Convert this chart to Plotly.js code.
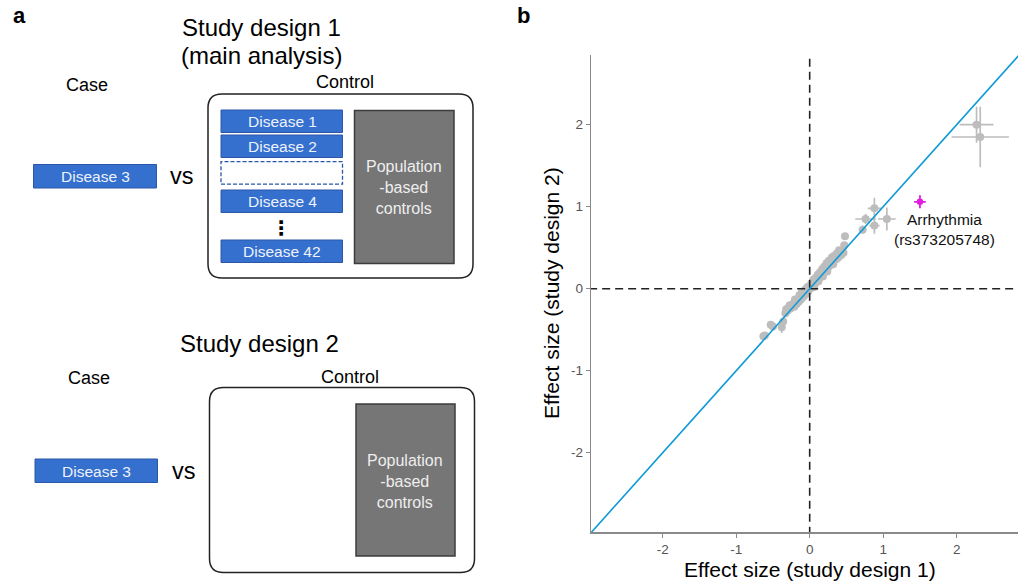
<!DOCTYPE html>
<html>
<head>
<meta charset="utf-8">
<script src="https://cdn.plot.ly/plotly-3.0.1.min.js"></script>
<style>html,body{margin:0;padding:0;background:#fff;}#chart{width:1018px;height:586px;}</style>
</head>
<body>
<div id="chart"></div>
<script>
// ---------- data (panel b) ----------
const effectDesign1 = [-0.63,-0.61,-0.53,-0.50,-0.38,-0.36,-0.33,-0.30,-0.27,-0.26,-0.24,-0.22,-0.21,-0.19,-0.18,-0.16,-0.15,-0.13,-0.12,-0.10,-0.09,-0.08,-0.07,-0.06,-0.05,-0.04,-0.03,-0.02,-0.01,
  0.01,0.02,0.03,0.04,0.05,0.06,0.07,0.08,0.09,0.10,0.11,0.12,0.13,0.14,0.15,0.16,0.17,0.18,0.19,0.20,0.21,0.22,0.23,0.24,0.25,0.26,0.27,0.28,0.29,0.30,0.31,0.33,0.34,0.36,0.37,0.39,0.41,0.43,0.44,0.46,0.47,0.48,
  -0.32,-0.28,-0.20,-0.14,-0.11,-0.06,-0.03,0.02,0.05,0.08,0.11,0.14,0.17,0.20,0.23,0.26,0.30,0.33,0.37,0.40,0.06,0.12,0.18,0.24,0.32,
  0.72,0.76,0.88,0.88,1.05,2.27,2.32];
const effectDesign2 = [-0.58,-0.57,-0.44,-0.46,-0.47,-0.40,-0.30,-0.27,-0.20,-0.24,-0.21,-0.18,-0.22,-0.16,-0.19,-0.13,-0.16,-0.11,-0.13,-0.08,-0.10,-0.06,-0.08,-0.04,-0.06,-0.03,-0.01,-0.03,0.00,
  0.02,0.01,0.05,0.03,0.07,0.05,0.09,0.07,0.11,0.10,0.14,0.12,0.16,0.14,0.18,0.16,0.20,0.19,0.22,0.21,0.25,0.23,0.27,0.25,0.29,0.27,0.31,0.29,0.33,0.31,0.35,0.34,0.37,0.36,0.39,0.38,0.42,0.41,0.45,0.44,0.53,0.64,
  -0.25,-0.22,-0.13,-0.08,-0.05,-0.01,0.02,0.06,0.11,0.13,0.17,0.20,0.24,0.27,0.31,0.34,0.38,0.40,0.43,0.47,0.02,0.09,0.15,0.21,0.30,
  0.72,0.85,0.98,0.77,0.85,2.00,1.85];
const errDesign1 = [0.03,0.03,0.03,0.03,0.03,0.03,0.02,0.02,0.02,0.02,0.02,0.02,0.02,0.02,0.02,0.02,0.02,0.02,0.02,0.02,0.02,0.02,0.02,0.02,0.02,0.02,0.02,0.02,0.02,
  0.02,0.02,0.02,0.02,0.02,0.02,0.02,0.02,0.02,0.02,0.02,0.02,0.02,0.02,0.02,0.02,0.02,0.02,0.02,0.02,0.02,0.02,0.02,0.02,0.02,0.02,0.02,0.02,0.02,0.02,0.02,0.02,0.02,0.02,0.02,0.02,0.02,0.02,0.02,0.03,0.03,0.03,
  0.02,0.02,0.02,0.02,0.02,0.02,0.02,0.02,0.02,0.02,0.02,0.02,0.02,0.02,0.02,0.02,0.02,0.02,0.02,0.02,0.02,0.02,0.02,0.02,0.02,
  0.05,0.14,0.09,0.07,0.12,0.23,0.39];
const errDesign2 = [0.03,0.03,0.03,0.03,0.07,0.03,0.02,0.02,0.02,0.02,0.02,0.02,0.02,0.02,0.02,0.02,0.02,0.02,0.02,0.02,0.02,0.02,0.02,0.02,0.02,0.02,0.02,0.02,0.02,
  0.02,0.02,0.02,0.02,0.02,0.02,0.02,0.02,0.02,0.02,0.02,0.02,0.02,0.02,0.02,0.02,0.02,0.02,0.02,0.02,0.02,0.02,0.02,0.02,0.02,0.02,0.02,0.02,0.02,0.02,0.02,0.02,0.02,0.02,0.02,0.02,0.02,0.02,0.02,0.04,0.04,0.03,
  0.02,0.02,0.02,0.02,0.02,0.02,0.02,0.02,0.02,0.02,0.02,0.02,0.02,0.02,0.02,0.02,0.02,0.02,0.02,0.02,0.02,0.02,0.02,0.02,0.02,
  0.05,0.06,0.13,0.10,0.14,0.22,0.37];
const highlightX = [1.50];
const highlightY = [1.06];
const highlightErrX = [0.08];
const highlightErrY = [0.08];
const highlightLabel = "Arrhythmia<br>(rs373205748)";
const refLine = [-3, 3];
const tickValues = [-2, -1, 0, 1, 2];
const tickLabels = ["-2", "-1", "0", "1", "2"];

// ---------- panel a labels ----------
const design1Controls = ["Disease 1", "Disease 2", "", "Disease 4", "Disease 42"];
const caseLabel = "Disease 3";
const popLabel = "Population<br>-based<br>controls";

// ---------- helpers (pixel -> paper) ----------
const W = 1018, H = 586;
const px = x => x / W;
const py = y => 1 - y / H;
const FONT = "Liberation Sans, Arial, sans-serif";

function rect(x0, y0, x1, y1, fill, lc, lw, dash) {
  return {type: 'rect', xref: 'paper', yref: 'paper', x0: px(x0), x1: px(x1), y0: py(y1), y1: py(y0),
    fillcolor: fill, line: {color: lc, width: lw, dash: dash || 'solid'}, layer: 'above'};
}
function rrect(x0, y0, x1, y1, r, lc, lw) {
  const p = `M ${px(x0+r)},${py(y0)} L ${px(x1-r)},${py(y0)} Q ${px(x1)},${py(y0)} ${px(x1)},${py(y0+r)} ` +
    `L ${px(x1)},${py(y1-r)} Q ${px(x1)},${py(y1)} ${px(x1-r)},${py(y1)} L ${px(x0+r)},${py(y1)} ` +
    `Q ${px(x0)},${py(y1)} ${px(x0)},${py(y1-r)} L ${px(x0)},${py(y0+r)} Q ${px(x0)},${py(y0)} ${px(x0+r)},${py(y0)} Z`;
  return {type: 'path', xref: 'paper', yref: 'paper', path: p, fillcolor: 'rgba(0,0,0,0)', line: {color: lc, width: lw}, layer: 'above'};
}
function txt(x, y, text, size, color, opts) {
  return Object.assign({xref: 'paper', yref: 'paper', x: px(x), y: py(y), text: text, showarrow: false,
    xanchor: 'center', yanchor: 'middle', font: {family: FONT, size: size, color: color || '#000'}}, opts || {});
}

const BLUE = '#3570cf', BLUE_LINE = '#2c57a8', GREY = '#767676', GREY_LINE = '#3c3c3c';
const shapes = [];
const ann = [];

// Panel a, design 1
ann.push(txt(19, 15, '<b>a</b>', 22, '#000'));
ann.push(txt(261, 27, 'Study design 1', 24));
ann.push(txt(261, 56, '(main analysis)', 24));
ann.push(txt(87, 85, 'Case', 18));
ann.push(txt(345, 82, 'Control', 18));
shapes.push(rrect(208, 94, 473, 278, 14, '#222', 1.5));
const rowsTop = [110, 135, 161.7, 190, 240];
design1Controls.forEach((lab, i) => {
  const y0 = rowsTop[i], y1 = y0 + 22.5;
  if (lab === "") {
    shapes.push(rect(221, y0, 342.5, y1, '#ffffff', BLUE_LINE, 1.3, '4px,2px'));
  } else {
    shapes.push(rect(221, y0, 342.5, y1, BLUE, BLUE_LINE, 1, 'solid'));
    ann.push(txt(282, (y0 + y1) / 2 + 0.5, lab, 15.5, '#eef2fa'));
  }
});
ann.push(txt(281, 228, '<b>⋮</b>', 20, '#000', {font: {family: "DejaVu Sans, sans-serif", size: 20, color: '#000'}}));
shapes.push(rect(354.5, 110.5, 454, 263.5, GREY, GREY_LINE, 1.5));
ann.push(txt(403.5, 187.5, popLabel, 16, '#eeeeee', {align: 'center'}));
shapes.push(rect(33.5, 164.5, 156.5, 188, BLUE, BLUE_LINE, 1));
ann.push(txt(95, 176.8, caseLabel, 15.5, '#eef2fa'));
ann.push(txt(182, 176, 'vs', 23.5));

// Panel a, design 2
ann.push(txt(259.5, 343, 'Study design 2', 24));
ann.push(txt(89, 377.5, 'Case', 18));
ann.push(txt(349.5, 376.5, 'Control', 18));
shapes.push(rrect(209.5, 387.5, 474.5, 572.5, 14, '#222', 1.5));
shapes.push(rect(356, 404, 455, 556, GREY, GREY_LINE, 1.5));
ann.push(txt(405, 481.5, popLabel, 16, '#eeeeee', {align: 'center'}));
shapes.push(rect(35, 459, 157.5, 482.5, BLUE, BLUE_LINE, 1));
ann.push(txt(96.5, 471.3, caseLabel, 15.5, '#eef2fa'));
ann.push(txt(183.5, 470.5, 'vs', 23.5));

// Panel b labels
ann.push(txt(523, 15, '<b>b</b>', 22, '#000'));
ann.push(txt(810, 569, 'Effect size (study design 1)', 21));
ann.push(txt(551.5, 293.5, 'Effect size (study design 2)', 21, '#000', {textangle: -90}));
ann.push({xref: 'x', yref: 'y', x: highlightX[0] + 0.34, y: highlightY[0] - 0.34, text: highlightLabel,
  showarrow: false, xanchor: 'center', yanchor: 'middle', align: 'center',
  font: {family: FONT, size: 15.5, color: '#111'}});

const PT = '#bdbdbd';
const traces = [
  {type: 'scatter', mode: 'markers', x: effectDesign1, y: effectDesign2,
    marker: {color: PT, size: 8},
    error_x: {type: 'data', array: errDesign1, color: PT, thickness: 1.7, width: 0},
    error_y: {type: 'data', array: errDesign2, color: PT, thickness: 1.7, width: 0},
    hoverinfo: 'x+y'},
  {type: 'scatter', mode: 'lines', x: refLine, y: [0, 0], line: {color: '#222', width: 1.6, dash: '8px,5px'}, hoverinfo: 'skip'},
  {type: 'scatter', mode: 'lines', x: [0, 0], y: [refLine[0], 2.81], line: {color: '#222', width: 1.6, dash: '8px,5px'}, hoverinfo: 'skip'},
  {type: 'scatter', mode: 'lines', x: refLine, y: refLine, line: {color: '#0f9ad6', width: 1.6}, hoverinfo: 'skip'},
  {type: 'scatter', mode: 'markers', x: highlightX, y: highlightY,
    marker: {color: '#e31ce0', size: 6.5},
    error_x: {type: 'data', array: highlightErrX, color: '#e31ce0', thickness: 1.8, width: 0},
    error_y: {type: 'data', array: highlightErrY, color: '#e31ce0', thickness: 1.8, width: 0}}
];

const axisCommon = {
  showgrid: false, zeroline: false, showline: true, linecolor: '#8a8a8a', linewidth: 1.3,
  ticks: 'outside', ticklen: 4, tickwidth: 1.2, tickcolor: '#8a8a8a',
  tickvals: tickValues, ticktext: tickLabels,
  tickfont: {family: FONT, size: 13.5, color: '#555'}, fixedrange: true
};

const layout = {
  width: W, height: H, margin: {l: 0, r: 0, t: 0, b: 0},
  paper_bgcolor: '#fff', plot_bgcolor: '#fff', showlegend: false,
  xaxis: Object.assign({}, axisCommon, {domain: [591 / W, 1], range: [-2.975, 2.834], anchor: 'y'}),
  yaxis: Object.assign({}, axisCommon, {domain: [1 - 532.3 / H, 1 - 55 / H], range: [-2.97, 2.85], anchor: 'x'}),
  shapes: shapes, annotations: ann
};

Plotly.newPlot('chart', traces, layout, {displayModeBar: false, staticPlot: true});
</script>
</body>
</html>
